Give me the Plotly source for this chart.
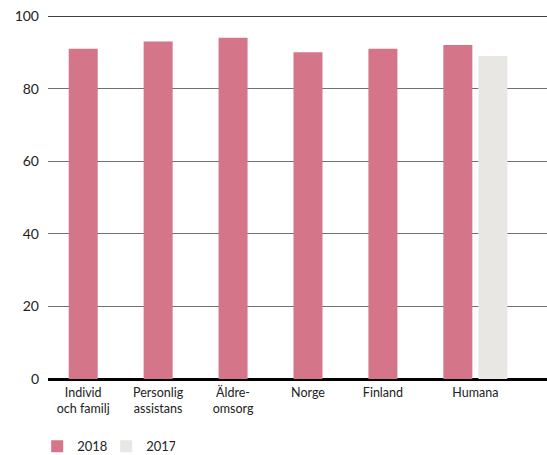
import plotly.graph_objects as go

categories = ["Individ<br>och familj", "Personlig<br>assistans", "Äldre-<br>omsorg", "Norge", "Finland", "Humana"]
values_2018 = [91, 93, 94, 90, 91, 92]
cat_2017 = ["Humana"]
values_2017 = [89]
y_ticks = [0, 20, 40, 60, 80, 100]

PINK = "#d4758a"
GREY = "#e8e7e3"
FONT = "Lato, 'Open Sans', sans-serif"

bw = 0.387   # bar width in category units
gap = 0.08   # gap between grouped bars

fig = go.Figure()
fig.add_trace(go.Bar(
    x=categories, y=values_2018, name="2018",
    marker=dict(color=PINK, line=dict(width=0)),
    width=bw, offset=-bw / 2,
))
fig.add_trace(go.Bar(
    x=cat_2017, y=values_2017, name="2017",
    marker=dict(color=GREY, line=dict(width=0)),
    width=bw, offset=bw / 2 + gap,
))

tickvals = list(range(len(categories)))
tickvals[-1] = tickvals[-1] + (bw + gap) / 2

fig.update_layout(
    width=547, height=455,
    margin=dict(l=48, r=0, t=16, b=76),
    paper_bgcolor="white", plot_bgcolor="white",
    barmode="overlay",
    font=dict(family=FONT, size=12, color="#222222"),
    showlegend=True,
    legend=dict(
        orientation="h", xref="container", yref="container",
        x=0.068, y=0.019, xanchor="left", yanchor="middle",
        font=dict(size=13, color="#222222"),
        itemsizing="constant", entrywidth=24, entrywidthmode="pixels",
        traceorder="normal",
    ),
    xaxis=dict(
        type="category", categoryorder="array", categoryarray=categories,
        range=[-0.47, 6.19],
        tickmode="array", tickvals=tickvals, ticktext=categories,
        showgrid=False, showline=False, zeroline=False, ticks="",
        ticklabelstandoff=4,
        tickfont=dict(size=12.5, color="#222222"),
        fixedrange=True,
    ),
    yaxis=dict(
        range=[0, 100], tickvals=y_ticks,
        showgrid=True, gridcolor="#707070", gridwidth=1.4,
        zeroline=True, zerolinecolor="#000000", zerolinewidth=3,
        showline=False, ticks="", ticklabelstandoff=8,
        tickfont=dict(size=14, color="#222222"),
        fixedrange=True,
    ),
    shapes=[dict(type="line", xref="paper", yref="y", x0=0, x1=1, y0=100, y1=100,
                 line=dict(color="#000000", width=1.5), layer="above")],
)

fig.write_html("out.html")
